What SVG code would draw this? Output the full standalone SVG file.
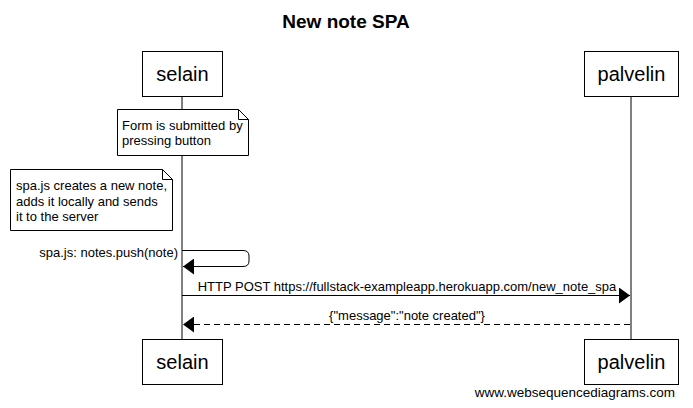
<svg xmlns="http://www.w3.org/2000/svg" width="693" height="408" viewBox="0 0 693 408">
<style>
text{font-family:"Liberation Sans",Arial,sans-serif;fill:#000}
.box{fill:#fff;stroke:#000;stroke-width:1}
.life{stroke:#000;stroke-width:1}
.actor{font-size:20px;text-anchor:middle}
.note{font-size:13px}
.msg{font-size:13px}
.line{fill:none;stroke:#000;stroke-width:1}
</style>
<defs>
<marker id="ah" markerWidth="12" markerHeight="16" refX="11" refY="8" orient="auto" markerUnits="userSpaceOnUse">
<path d="M0,0 L11,8 L0,16 Z" fill="#000"/>
</marker>
</defs>
<rect width="693" height="408" fill="#fff"/>
<text x="346" y="28" font-size="19" font-weight="bold" text-anchor="middle">New note SPA</text>
<g id="lifelines">
<line class="life" x1="182" y1="96" x2="182" y2="339"/>
<line class="life" x1="631" y1="96" x2="631" y2="339"/>
</g>
<g id="selain">
<rect class="box" x="142.5" y="51.5" width="80" height="45"/>
<text class="actor" x="182.5" y="81">selain</text>
</g>
<g id="palvelin">
<rect class="box" x="584.5" y="51.5" width="94" height="45"/>
<text class="actor" x="631.5" y="81">palvelin</text>
</g>
<g id="selain-bottom">
<rect class="box" x="142.5" y="339.5" width="80" height="45"/>
<text class="actor" x="182.5" y="369">selain</text>
</g>
<g id="palvelin-bottom">
<rect class="box" x="584.5" y="339.5" width="94" height="45"/>
<text class="actor" x="631.5" y="369">palvelin</text>
</g>
<g id="note1">
<path class="box" d="M117.5,109.5 H238.5 L248.5,119.5 V155.5 H117.5 Z"/>
<path class="line" d="M238.5,109.5 V119.5 H248.5"/>
<text class="note" x="122" y="130">Form is submitted by</text>
<text class="note" x="122" y="145">pressing button</text>
</g>
<g id="note2">
<path class="box" d="M10.5,169.5 H162.5 L172.5,179.5 V230.5 H10.5 Z"/>
<path class="line" d="M162.5,169.5 V179.5 H172.5"/>
<text class="note" x="16" y="190">spa.js creates a new note,</text>
<text class="note" x="16" y="206">adds it locally and sends</text>
<text class="note" x="16" y="221">it to the server</text>
</g>
<g id="connectors">
<path class="line" d="M182,250.5 H243 Q249,250.5 249,256 V261 Q249,266.5 243,266.5 H183" marker-end="url(#ah)"/>
<text class="msg" x="178" y="257" text-anchor="end">spa.js: notes.push(note)</text>
<line class="line" x1="182" y1="295.5" x2="630" y2="295.5" marker-end="url(#ah)"/>
<text class="msg" x="407" y="291" text-anchor="middle">HTTP POST https://fullstack-exampleapp.herokuapp.com/new_note_spa</text>
<line class="line" x1="630" y1="324.5" x2="183" y2="324.5" stroke-dasharray="6,4" marker-end="url(#ah)"/>
<text class="msg" x="407" y="320" text-anchor="middle">{"message":"note created"}</text>
</g>
<text x="675" y="397" font-size="13.5" text-anchor="end">www.websequencediagrams.com</text>
</svg>
